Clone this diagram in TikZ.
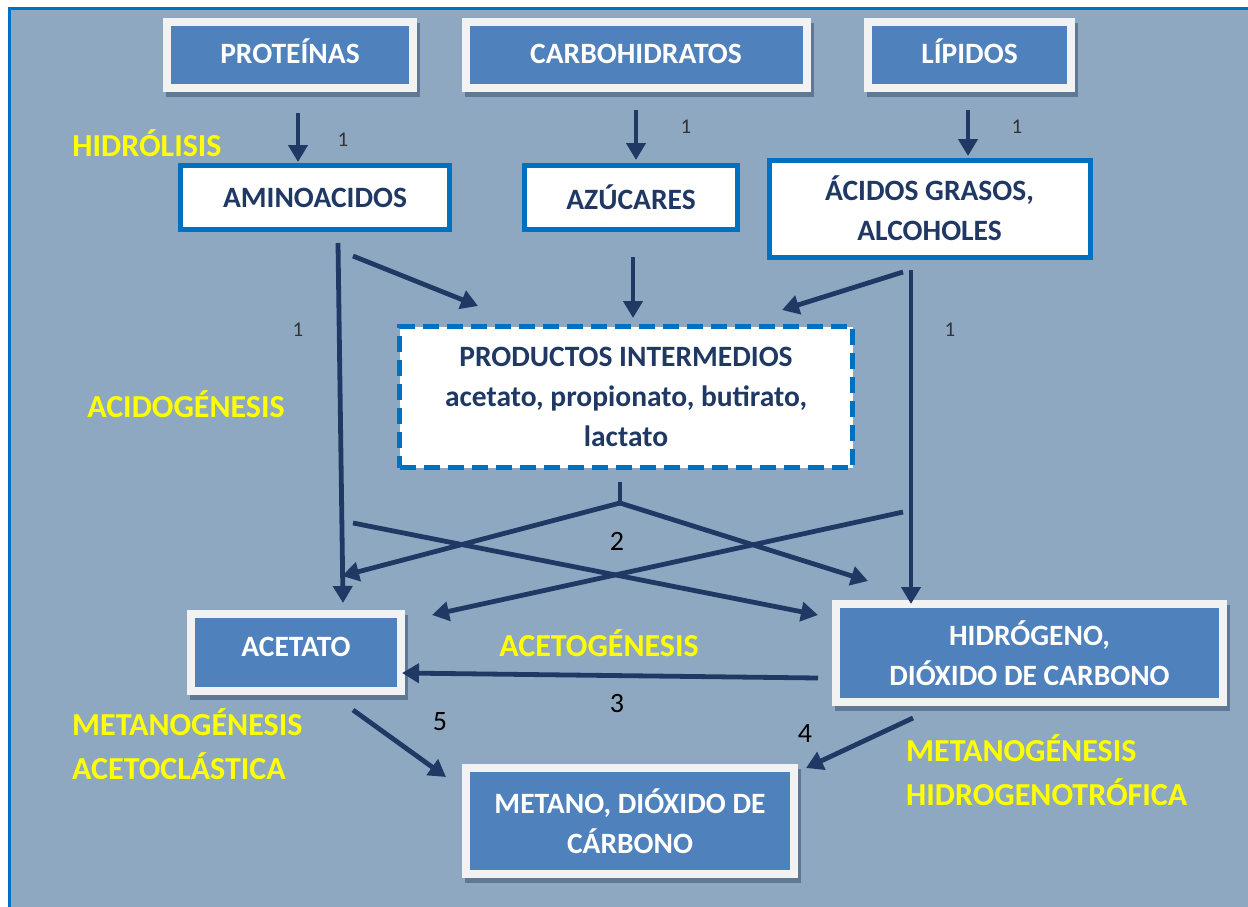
\documentclass[tikz,border=0pt]{standalone}
\usepackage{fontspec}
\setmainfont{Carlito}
\usetikzlibrary{shadows,arrows.meta,calc}
\definecolor{bgc}{HTML}{8FA8C2}
\definecolor{frameblue}{HTML}{0070C0}
\definecolor{boxblue}{HTML}{4F81BD}
\definecolor{navy}{HTML}{1F3864}
\definecolor{shadowc}{HTML}{5F7896}
\definecolor{offwhite}{HTML}{F2F2F2}
\definecolor{yel}{HTML}{FFFF00}
\begin{document}
\begin{tikzpicture}[x=1pt,y=-1pt,
  bluebox/.style={fill=offwhite, text=white, font=\bfseries\fontsize{29.5}{40}\selectfont, align=center, inner sep=0pt,
    drop shadow={shadow xshift=3pt,shadow yshift=-5pt,fill=shadowc,opacity=1},
    path picture={\fill[boxblue] ($(path picture bounding box.south west)+(8pt,8pt)$) rectangle ($(path picture bounding box.north east)+(-8pt,-8pt)$);}},
  whitebox/.style={fill=white, draw=frameblue, line width=5pt, text=navy, font=\bfseries\fontsize{29.5}{40}\selectfont, align=center, inner sep=0pt},
  dashbox/.style={whitebox, dash pattern=on 16pt off 8pt},
  phase/.style={text=yel, font=\bfseries\fontsize{32}{44.5}\selectfont, inner sep=0pt},
  one/.style={text=black!80, font=\fontsize{21}{22}\selectfont, inner sep=0pt},
  num/.style={text=black, font=\fontsize{28}{30}\selectfont, inner sep=0pt},
  ln/.style={draw=navy, line width=4.8pt},
  arr/.style={ln, -{Triangle[length=17pt,width=19pt]}}]
\useasboundingbox (0,0) rectangle (1248,907);
\fill[white] (0,0) rectangle (1248,907);
\fill[bgc] (9,8) rectangle (1248,907);
\draw[frameblue, line width=2.5pt] (9.5,910) -- (9.5,8.5) -- (1250,8.5);

% top row
\node[bluebox, minimum width=254pt, minimum height=74pt, text height=22pt, text depth=4pt] (prot) at (290,55) {PROTEÍNAS};
\node[bluebox, minimum width=349pt, minimum height=74pt, text height=22pt, text depth=4pt] (carb) at (636,55) {CARBOHIDRATOS};
\node[bluebox, minimum width=211pt, minimum height=74pt, text height=22pt, text depth=4pt] (lip) at (969.5,55) {LÍPIDOS};

% second row
\node[whitebox, minimum width=269pt, minimum height=64pt] (amino) at (315,197.5) {AMINOACIDOS};
\node[whitebox, minimum width=213pt, minimum height=64pt] (azu) at (631,197.5) {AZÚCARES};
\node[whitebox, minimum width=321pt, minimum height=97pt] (acid) at (929.5,208.5) {ÁCIDOS GRASOS,\\ALCOHOLES};

% intermediate
\node[dashbox, minimum width=453pt, minimum height=141pt] (inter) at (626,397) {PRODUCTOS INTERMEDIOS\\acetato, propionato, butirato,\\lactato};

% third row
\node[bluebox, minimum width=218pt, minimum height=85pt, text height=20pt, text depth=12pt] (acet) at (296,652.5) {ACETATO};
\node[bluebox, minimum width=395pt, minimum height=106pt] (hid) at (1029.5,653) {HIDRÓGENO,\\DIÓXIDO DE CARBONO};
\node[bluebox, minimum width=336pt, minimum height=114pt] (met) at (630,821) {METANO, DIÓXIDO DE\\CÁRBONO};

% phase labels
\node[phase] (hidro) at (147,143) {HIDRÓLISIS};
\node[phase] (acido) at (186,404) {ACIDOGÉNESIS};
\node[phase] (aceto) at (599,643) {ACETOGÉNESIS};
\node[phase, anchor=west, align=left] (metA) at (72,744) {METANOGÉNESIS\\ACETOCLÁSTICA};
\node[phase, anchor=west, align=left] (metH) at (906,770) {METANOGÉNESIS\\HIDROGENOTRÓFICA};

% numbers
\node[one] (n1a) at (343,140) {1};
\node[one] (n1b) at (686,127) {1};
\node[one] (n1c) at (1017,127) {1};
\node[one] (n1d) at (298,330) {1};
\node[one] (n1e) at (950,330) {1};
\node[num] (n2) at (617,541) {2};
\node[num] (n3) at (617,704) {3};
\node[num] (n5) at (440,722) {5};
\node[num] (n4) at (805,734) {4};

% coordinates
\coordinate (p1) at (298,113); \coordinate (p2) at (298,162);
\coordinate (c1) at (636,110); \coordinate (c2) at (636,160);
\coordinate (l1) at (968,110); \coordinate (l2) at (968,156);
\coordinate (am1) at (338,243); \coordinate (am2) at (343,603);
\coordinate (am3) at (353,256); \coordinate (am4) at (478,306);
\coordinate (az1) at (633,257); \coordinate (az2) at (633,318);
\coordinate (ac1) at (903,272); \coordinate (ac2) at (782,310);
\coordinate (ac3) at (911,270); \coordinate (ac4) at (911,604);
\coordinate (pi1) at (620,482); \coordinate (fork) at (620,503);
\coordinate (fl) at (342,576); \coordinate (fr) at (868,581);
\coordinate (x1) at (353,523); \coordinate (x2) at (818,615);
\coordinate (y1) at (903,512); \coordinate (y2) at (432,615);
\coordinate (h1) at (818,678); \coordinate (h2) at (402,673);
\coordinate (m1) at (353,710); \coordinate (m2) at (446,777);
\coordinate (q1) at (913,718); \coordinate (q2) at (806,768);

\draw[arr] (p1) -- (p2);
\draw[arr] (c1) -- (c2);
\draw[arr] (l1) -- (l2);
\draw[arr] (am1) -- (am2);
\draw[arr] (am3) -- (am4);
\draw[arr] (az1) -- (az2);
\draw[arr] (ac1) -- (ac2);
\draw[arr] (ac3) -- (ac4);
\draw[ln] (pi1) -- (fork);
\draw[arr] (fork) -- (fl);
\draw[arr] (fork) -- (fr);
\draw[arr] (x1) -- (x2);
\draw[arr] (y1) -- (y2);
\draw[arr] (h1) -- (h2);
\draw[arr] (m1) -- (m2);
\draw[arr] (q1) -- (q2);
\end{tikzpicture}
\end{document}
